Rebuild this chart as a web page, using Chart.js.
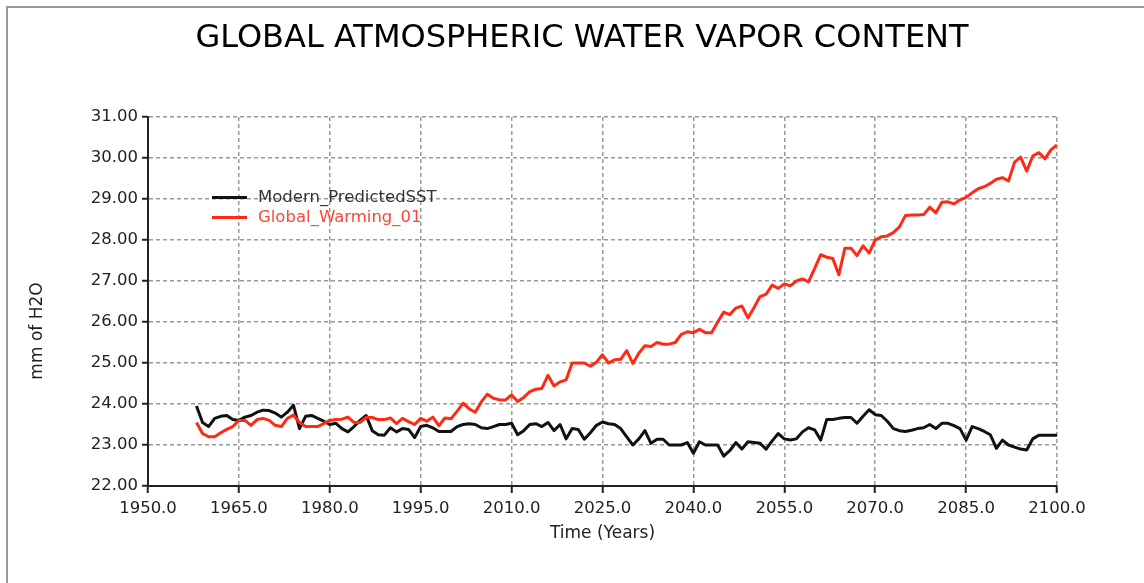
<!DOCTYPE html>
<html>
<head>
<meta charset="utf-8">
<title>Global Atmospheric Water Vapor Content</title>
<script src="https://cdn.jsdelivr.net/npm/chart.js@4.4.1/dist/chart.umd.min.js"></script>
<style>
  html, body { margin: 0; padding: 0; background: #fff; }
  #wrap { position: relative; width: 1144px; height: 583px; overflow: hidden; }
  #myChart { position: absolute; left: 0; top: 0; }
  #frame { position: absolute; left: 6px; top: 6px; right: 0; bottom: 0;
           border-top: 2px solid #9a9a9a; border-left: 2px solid #9a9a9a; pointer-events: none; }
</style>
</head>
<body>
<div id="wrap">
  <canvas id="myChart" width="1144" height="583"></canvas>
  <div id="frame"></div>
</div>
<script>
// Data, one value per year
const firstYear = 1958;
const years = Array.from({length: 143}, (_, i) => firstYear + i);

const modernSST = [
                                                              23.95, 23.55,
  23.45, 23.65, 23.70, 23.72, 23.62, 23.60, 23.68, 23.72, 23.80, 23.85, // 1960
  23.84, 23.78, 23.68, 23.80, 23.97, 23.40, 23.70, 23.72, 23.65, 23.58, // 1970
  23.50, 23.53, 23.40, 23.32, 23.45, 23.60, 23.72, 23.35, 23.25, 23.24, // 1980
  23.42, 23.32, 23.40, 23.38, 23.18, 23.45, 23.48, 23.42, 23.33, 23.33, // 1990
  23.33, 23.45, 23.50, 23.52, 23.50, 23.42, 23.40, 23.45, 23.50, 23.50, // 2000
  23.53, 23.25, 23.35, 23.50, 23.52, 23.45, 23.55, 23.35, 23.50, 23.15, // 2010
  23.40, 23.38, 23.14, 23.30, 23.48, 23.56, 23.52, 23.50, 23.40, 23.20, // 2020
  23.00, 23.15, 23.35, 23.04, 23.14, 23.14, 23.00, 23.00, 23.00, 23.06, // 2030
  22.80, 23.08, 23.00, 23.00, 23.00, 22.73, 22.86, 23.06, 22.90, 23.08, // 2040
  23.06, 23.04, 22.90, 23.10, 23.28, 23.15, 23.12, 23.15, 23.32, 23.42, // 2050
  23.37, 23.12, 23.62, 23.62, 23.65, 23.67, 23.67, 23.53, 23.70, 23.86, // 2060
  23.74, 23.72, 23.58, 23.40, 23.35, 23.33, 23.36, 23.40, 23.42, 23.50, // 2070
  23.40, 23.53, 23.53, 23.47, 23.40, 23.12, 23.45, 23.40, 23.33, 23.25, // 2080
  22.92, 23.12, 23.00, 22.95, 22.90, 22.88, 23.15, 23.24, 23.24, 23.24, // 2090
  23.24                                                                 // 2100
];

const globalWarming = [
                                                              23.55, 23.28,
  23.20, 23.20, 23.30, 23.38, 23.45, 23.60, 23.60, 23.48, 23.62, 23.65, // 1960
  23.60, 23.48, 23.45, 23.65, 23.73, 23.55, 23.45, 23.45, 23.45, 23.52, // 1970
  23.60, 23.62, 23.63, 23.68, 23.55, 23.55, 23.67, 23.67, 23.62, 23.62, // 1980
  23.66, 23.52, 23.65, 23.57, 23.50, 23.65, 23.58, 23.68, 23.47, 23.66, // 1990
  23.64, 23.82, 24.02, 23.88, 23.80, 24.05, 24.24, 24.14, 24.10, 24.10, // 2000
  24.22, 24.06, 24.16, 24.30, 24.36, 24.38, 24.70, 24.44, 24.54, 24.59, // 2010
  25.00, 25.00, 25.00, 24.92, 25.02, 25.20, 25.00, 25.08, 25.09, 25.30, // 2020
  24.99, 25.24, 25.42, 25.40, 25.50, 25.46, 25.46, 25.50, 25.70, 25.76, // 2030
  25.74, 25.82, 25.74, 25.74, 26.00, 26.24, 26.18, 26.34, 26.39, 26.10, // 2040
  26.35, 26.62, 26.68, 26.90, 26.82, 26.93, 26.88, 27.00, 27.05, 26.98, // 2050
  27.30, 27.64, 27.58, 27.55, 27.15, 27.80, 27.80, 27.62, 27.86, 27.68, // 2060
  28.00, 28.08, 28.10, 28.18, 28.32, 28.60, 28.61, 28.61, 28.62, 28.80, // 2070
  28.66, 28.92, 28.93, 28.88, 28.98, 29.04, 29.15, 29.25, 29.30, 29.38, // 2080
  29.48, 29.52, 29.44, 29.90, 30.02, 29.68, 30.05, 30.13, 29.98, 30.20, // 2090
  30.32                                                                 // 2100
];

const seriesNames = ['Modern_PredictedSST', 'Global_Warming_01'];
const chartTitle = 'GLOBAL ATMOSPHERIC WATER VAPOR CONTENT';
const xTitle = 'Time (Years)';
const yTitle = 'mm of H2O';

// x/y pairs for the linear time axis
function points(values) {
  return values.map((v, i) => ({x: years[i], y: v}));
}

Chart.defaults.font.family = "'DejaVu Sans', sans-serif";
Chart.defaults.color = '#222';

// legend sits inside the plot, y axis title is drawn by hand
const extras = {
  id: 'extras',
  afterDraw(chart) {
    const ctx = chart.ctx;
    const area = chart.chartArea;
    ctx.save();
    ctx.font = "17px 'DejaVu Sans'";
    ctx.fillStyle = '#222';
    ctx.textAlign = 'center';
    ctx.textBaseline = 'middle';
    ctx.translate(38, 331);
    ctx.rotate(-Math.PI / 2);
    ctx.fillText(yTitle, 0, 0);
    ctx.restore();

    ctx.save();
    ctx.font = "16.5px 'DejaVu Sans'";
    ctx.textBaseline = 'middle';
    chart.data.datasets.forEach((ds, i) => {
      const y = area.top + 80.5 + i * 20;
      ctx.strokeStyle = ds.borderColor;
      ctx.lineWidth = 3;
      ctx.beginPath();
      ctx.moveTo(area.left + 64, y);
      ctx.lineTo(area.left + 99, y);
      ctx.stroke();
      ctx.fillStyle = ds.legendText;
      ctx.fillText(ds.label, area.left + 110, y);
    });
    ctx.restore();
  }
};

const gridStyle = {
  color: '#9a9a9a',
  lineWidth: 1.5,
  tickColor: '#222',
  tickWidth: 2
};

var myChart = new Chart(document.getElementById('myChart'), {
  type: 'line',
  data: {
    datasets: [{
      label: seriesNames[0],
      data: points(modernSST),
      borderColor: '#111111',
      legendText: '#333333',
      borderWidth: 3,
      order: 1
    }, {
      label: seriesNames[1],
      data: points(globalWarming),
      borderColor: '#ff2a14',
      legendText: '#ff4535',
      borderWidth: 3,
      order: 0
    }]
  },
  options: {
    responsive: false,
    animation: false,
    devicePixelRatio: 1,
    layout: {
      padding: {left: 20, right: 0, top: 0, bottom: 0}
    },
    elements: {
      point: {radius: 0},
      line: {tension: 0, borderJoinStyle: 'round'}
    },
    plugins: {
      legend: {display: false},
      tooltip: {enabled: false},
      title: {
        display: true,
        text: chartTitle,
        color: '#000',
        font: {size: 32, weight: 'normal'},
        padding: {top: 19, bottom: 59.6}
      }
    },
    scales: {
      x: {
        type: 'linear',
        min: 1950,
        max: 2100,
        afterFit: (scale) => { scale.height = 97; },
        ticks: {
          stepSize: 15,
          autoSkip: false,
          maxRotation: 0,
          padding: 6,
          font: {size: 16.5},
          callback: (v) => v.toFixed(1)
        },
        grid: Object.assign({tickLength: 7}, gridStyle),
        border: {display: true, color: '#222', width: 2, dash: [4, 3]},
        title: {
          display: true,
          text: xTitle,
          font: {size: 17},
          padding: {top: 0, bottom: 39}
        }
      },
      y: {
        min: 22,
        max: 31,
        afterFit: (scale) => { scale.width = 128; },
        ticks: {
          stepSize: 1,
          padding: 4,
          font: {size: 16.5},
          callback: (v) => v.toFixed(2)
        },
        grid: Object.assign({tickLength: 6}, gridStyle),
        border: {display: true, color: '#222', width: 2, dash: [4, 3]}
      },
      // empty right margin so the title centres like the original
      spacer: {
        position: 'right',
        display: true,
        afterFit: (scale) => { scale.width = 87; },
        ticks: {display: false},
        grid: {display: false, drawTicks: false},
        border: {display: false}
      }
    }
  },
  plugins: [extras]
});
</script>
</body>
</html>
